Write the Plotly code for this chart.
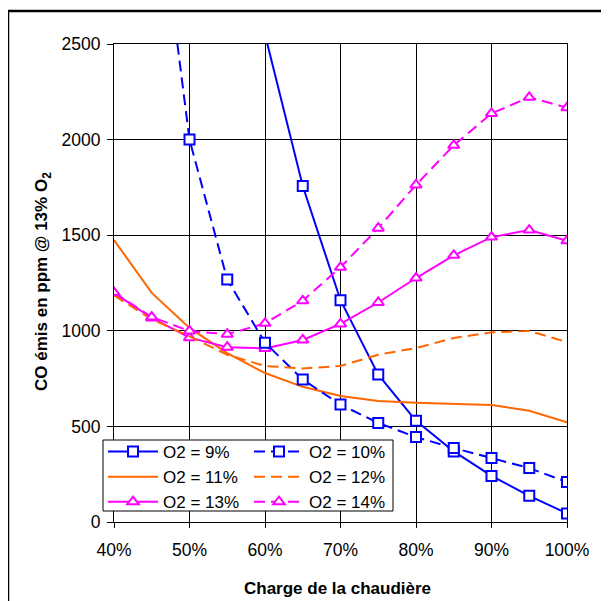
import plotly.graph_objects as go

# ---- data ----
charge = [40, 45, 50, 55, 60, 65, 70, 75, 80, 85, 90, 95, 100]
o2_9 = [None, None, None, None, 2550, 1757, 1160, 771, 529, 369, 241, 137, 45]
o2_10 = [None, 3560, 2000, 1268, 938, 745, 614, 518, 444, 387, 335, 282, 209]
o2_11 = [1475, 1198, 1015, 883, 779, 707, 659, 633, 624, 619, 612, 582, 521]
o2_12 = [1185, 1060, 971, 875, 816, 803, 816, 875, 910, 962, 992, 999, 941]
o2_13 = [1198, 1067, 964, 914, 908, 952, 1036, 1148, 1276, 1395, 1490, 1527, 1471]
o2_14 = [1200, 1072, 999, 982, 1039, 1157, 1332, 1537, 1763, 1970, 2137, 2221, 2167]
series_names = ["O2 = 9%", "O2 = 10%", "O2 = 11%", "O2 = 12%", "O2 = 13%", "O2 = 14%"]
x_ticks = [40, 50, 60, 70, 80, 90, 100]
x_tick_labels = ["40%", "50%", "60%", "70%", "80%", "90%", "100%"]
y_ticks = [0, 500, 1000, 1500, 2000, 2500]
x_title = "<b>Charge de la chaudière</b>"
y_title = "<b>CO émis en ppm @ 13% O<sub>2</sub></b>"

BLUE = "#0000FF"
ORANGE = "#FF6600"
MAGENTA = "#FF00FF"
DASH = "11px,6px"
FONT = "Liberation Sans, Arial, sans-serif"

fig = go.Figure()

def add(y, name, color, dash, symbol, legend):
    mode = "lines+markers" if symbol else "lines"
    marker = dict(symbol=symbol, size=10, color="white",
                  line=dict(color=color, width=2)) if symbol else None
    fig.add_trace(go.Scatter(
        x=charge, y=y, name=name, mode=mode,
        line=dict(color=color, width=2, dash=dash),
        marker=marker, legend=legend, cliponaxis=True,
    ))

add(o2_9, series_names[0], BLUE, "solid", "square", "legend")
add(o2_11, series_names[2], ORANGE, "solid", None, "legend")
add(o2_13, series_names[4], MAGENTA, "solid", "triangle-up", "legend")
add(o2_10, series_names[1], BLUE, DASH, "square", "legend2")
add(o2_12, series_names[3], ORANGE, DASH, None, "legend2")
add(o2_14, series_names[5], MAGENTA, DASH, "triangle-up", "legend2")

OFF = 8  # page body offset
W, H = 609, 601
L, T = 114 - OFF, 44 - OFF
R = W - (567 - OFF)
B = H - (522 - OFF)
pw, ph = W - L - R, H - T - B

def px(xs):
    return (xs - OFF - L) / pw

def py(ys):
    return (H - B - (ys - OFF)) / ph

leg_common = dict(
    font=dict(family=FONT, size=17, color="black"),
    bgcolor="rgba(0,0,0,0)", borderwidth=0,
    xanchor="left", yanchor="top", itemwidth=50,
    tracegroupgap=0, xref="container", yref="container",
)

fig.update_layout(
    width=W, height=H,
    margin=dict(l=L, r=R, t=T, b=B, autoexpand=False),
    paper_bgcolor="white", plot_bgcolor="white",
    font=dict(family=FONT, size=17.5, color="black"),
    showlegend=True,
    legend=dict(x=95 / W, y=1 - 426 / H, **leg_common),
    legend2=dict(x=241 / W, y=1 - 426 / H, **leg_common),
    shapes=[
        # legend frame
        dict(type="rect", xref="paper", yref="paper",
             x0=px(103), x1=px(393), y0=py(511), y1=py(440),
             line=dict(color="black", width=1), fillcolor="white", layer="above"),
        # outer chart frame
        dict(type="rect", xref="paper", yref="paper",
             x0=px(8), x1=px(660), y0=py(660), y1=py(11),
             line=dict(color="black", width=2.5), fillcolor="rgba(0,0,0,0)", layer="above"),
    ],
    annotations=[
        dict(text=x_title, xref="paper", yref="paper", x=px(337), y=py(588),
             xanchor="center", yanchor="middle", showarrow=False,
             font=dict(family=FONT, size=17, color="black")),
        dict(text=y_title, xref="paper", yref="paper", x=px(43), y=py(282),
             xanchor="center", yanchor="middle", showarrow=False, textangle=-90,
             font=dict(family=FONT, size=17, color="black")),
    ],
)

fig.update_xaxes(
    range=[40, 100], tickvals=x_ticks, ticktext=x_tick_labels,
    showgrid=True, gridcolor="black", gridwidth=1,
    showline=True, linecolor="black", linewidth=1, mirror=True,
    ticks="outside", ticklen=5, tickcolor="black", ticklabelstandoff=7,
    tickfont=dict(family=FONT, size=17.5),
    zeroline=False,
)
fig.update_yaxes(
    range=[0, 2500], tickvals=y_ticks,
    showgrid=True, gridcolor="black", gridwidth=1,
    showline=True, linecolor="black", linewidth=1, mirror=True,
    ticks="outside", ticklen=6, tickcolor="black", ticklabelstandoff=3,
    tickfont=dict(family=FONT, size=17.5),
    zeroline=False,
)

fig.write_html("out.html")
